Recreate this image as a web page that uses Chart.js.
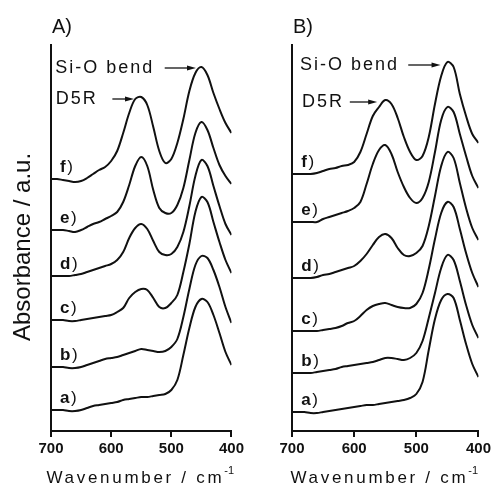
<!DOCTYPE html>
<html>
<head>
<meta charset="utf-8">
<script src="https://cdn.jsdelivr.net/npm/chart.js@4.4.1/dist/chart.umd.min.js"></script>
<style>
  html, body { margin: 0; padding: 0; background: #fff; }
  #wrap { position: relative; width: 494px; height: 493px; }
  canvas { position: absolute; top: 0; }
  #panelA { left: 0; }
  #panelB { left: 247px; }
</style>
</head>
<body>
<div id="wrap">
  <canvas id="panelA" width="247" height="493"></canvas>
  <canvas id="panelB" width="247" height="493"></canvas>
</div>
<script>
// wavenumber grid, cm-1 (700 -> 400)
const wavenumbers = [700, 690, 680, 670, 660, 650, 640, 630, 620, 610,
                     600, 590, 580, 570, 560, 550, 540, 530, 520, 510,
                     500, 490, 480, 470, 460, 450, 440, 430, 420, 410, 400];
const curveLabels = ['a', 'b', 'c', 'd', 'e', 'f'];

// panel A spectra (a.u., each relative to its own baseline)
const specA_a = [0, 0, 0, -1, -1, 0, 2, 4, 5, 6,   7, 8, 10, 11, 12, 13, 13, 14, 15, 16,   20, 30, 55, 82, 103, 111, 108, 95, 77, 58, 45];
const specA_b = [0, 0, 0, -1, -1, 0, 2, 4, 6, 8,   9, 10, 12, 14, 16, 18, 17, 16, 15, 16,   20, 28, 50, 78, 102, 111, 109, 97, 80, 60, 44];
const specA_c = [0, 0, 0, -1, -1, 0, 1, 2, 3, 4,   5, 8, 12, 22, 28, 31, 30, 22, 13, 12,   17, 25, 48, 76, 108, 123, 118, 98, 78, 60, 47];
const specA_d = [0, 0, 0, 0, 1, 2, 4, 6, 8, 10,    12, 16, 24, 38, 48, 52, 47, 35, 24, 21,   22, 29, 44, 70, 100, 116, 110, 90, 70, 52, 41];
const specA_e = [0, 0, 0, -1, -2, 0, 3, 6, 8, 11,  14, 18, 28, 45, 64, 73, 64, 40, 22, 17,   17, 25, 42, 70, 97, 108, 100, 82, 65, 54, 46];
const specA_f = [0, 0, -1, -2, -3, -2, 1, 5, 9, 12, 18, 28, 46, 66, 80, 82, 74, 52, 28, 16,  20, 36, 60, 88, 106, 112, 104, 86, 70, 56, 46];
const offsetsA = [21, 64, 111, 155, 201, 252];

// panel B spectra
const specB_a = [0, 0, 0, -1, -1, 0, 1, 2, 3, 4,   5, 6, 7, 7, 8, 9, 10, 11, 12, 14,        18, 30, 62, 93, 112, 118, 114, 92, 68, 48, 35];
const specB_b = [0, 0, 0, 0, 1, 2, 3, 4, 6, 7,     8, 9, 10, 11, 13, 15, 15, 14, 13, 15,    20, 32, 55, 80, 105, 118, 113, 92, 68, 48, 35];
const specB_c = [0, 0, 0, 0, 0, 1, 2, 3, 5, 8,     10, 15, 21, 25, 27, 28, 26, 24, 23, 23,  27, 38, 62, 92, 118, 129, 124, 102, 78, 58, 44];
const specB_d = [0, 0, 0, 0, 1, 3, 4, 6, 8, 10,    12, 17, 24, 33, 41, 44, 40, 30, 23, 22,  25, 32, 52, 82, 112, 126, 120, 95, 70, 50, 38];
const specB_e = [0, 0, 0, 0, 0, 3, 5, 7, 9, 11,    14, 20, 38, 58, 72, 77, 68, 50, 35, 24,  19, 24, 40, 70, 102, 115, 110, 88, 66, 46, 34];
const specB_f = [0, 0, 0, 0, 1, 3, 5, 6, 8, 9,     12, 22, 40, 58, 67, 74, 70, 56, 37, 22,  14, 18, 37, 70, 98, 112, 107, 80, 58, 40, 31];
const offsetsB = [19, 58, 100, 153, 209, 257];

const xTicks = [700, 600, 500, 400];

const FONT = "'Liberation Sans', Arial, Helvetica, sans-serif";
const INK = '#111';

function buildDatasets(series, offsets) {
  return series.map((vals, i) => ({
    label: curveLabels[i],
    data: vals.map((v, j) => ({ x: wavenumbers[j], y: v + offsets[i] })),
    borderColor: INK,
    borderWidth: 2,
    pointRadius: 0,
    tension: 0.35,
    fill: false
  }));
}

// text, labels and arrows drawn on top of each panel
const panelText = {
  id: 'panelText',
  afterDraw(chart, args, o) {
    const { ctx, chartArea: ca, scales: { x, y } } = chart;
    ctx.save();
    ctx.fillStyle = INK;
    ctx.strokeStyle = INK;
    ctx.textAlign = 'left';

    ctx.font = `20px ${FONT}`;
    ctx.textBaseline = 'alphabetic';
    ctx.fillText(o.panel, ca.left + 1, 33);

    ctx.textBaseline = 'middle';
    o.offsets.forEach((off, i) => {
      const px = x.getPixelForValue(o.labelX);
      const py = y.getPixelForValue(off + 12);
      ctx.font = `bold 17px ${FONT}`;
      ctx.fillText(curveLabels[i], px, py);
      const w = ctx.measureText(curveLabels[i]).width;
      ctx.font = `17px ${FONT}`;
      ctx.fillText(')', px + w + 1.5, py);
    });

    o.notes.forEach(n => {
      const ty = y.getPixelForValue(n.y);
      ctx.font = `18px ${FONT}`;
      ctx.letterSpacing = '2px';
      ctx.fillText(n.text, x.getPixelForValue(n.textX), ty);
      ctx.letterSpacing = '0px';
      const x0 = x.getPixelForValue(n.from), x1 = x.getPixelForValue(n.to);
      ctx.lineWidth = 1.3;
      ctx.beginPath(); ctx.moveTo(x0, ty); ctx.lineTo(x1 - 6, ty); ctx.stroke();
      ctx.beginPath(); ctx.moveTo(x1, ty); ctx.lineTo(x1 - 9, ty - 2.6); ctx.lineTo(x1 - 9, ty + 2.6);
      ctx.closePath(); ctx.fill();
    });

    // x axis title with superscript
    ctx.textBaseline = 'alphabetic';
    ctx.font = `17px ${FONT}`;
    ctx.letterSpacing = '2.7px';
    const main = 'Wavenumber / cm';
    const wMain = ctx.measureText(main).width;
    ctx.letterSpacing = '0px';
    ctx.font = `11px ${FONT}`;
    const wSup = ctx.measureText('-1').width;
    const cx = (ca.left + ca.right) / 2 - 1;
    const sx = cx - (wMain + wSup) / 2;
    ctx.font = `17px ${FONT}`;
    ctx.letterSpacing = '2.7px';
    ctx.fillText(main, sx, 483);
    ctx.letterSpacing = '0px';
    ctx.font = `11px ${FONT}`;
    ctx.fillText('-1', sx + wMain, 474);

    if (o.yTitle) {
      ctx.translate(23, 247);
      ctx.rotate(-Math.PI / 2);
      ctx.textAlign = 'center';
      ctx.textBaseline = 'middle';
      ctx.font = `24px ${FONT}`;
      ctx.fillText(o.yTitle, 0, 0);
    }
    ctx.restore();
  }
};

function makeChart(id, series, offsets, opts) {
  return new Chart(document.getElementById(id), {
    type: 'line',
    data: { datasets: buildDatasets(series, offsets) },
    options: {
      responsive: false,
      animation: false,
      layout: { padding: { top: 45, right: 14, left: 0, bottom: 0 } },
      plugins: {
        legend: { display: false },
        tooltip: { enabled: false },
        panelText: Object.assign({ offsets }, opts)
      },
      scales: {
        x: {
          type: 'linear',
          min: 400,
          max: 700,
          reverse: true,
          afterBuildTicks: s => { s.ticks = xTicks.map(v => ({ value: v })); },
          ticks: { color: INK, font: { family: FONT, size: 15, weight: 'bold' }, padding: 3, maxRotation: 0 },
          grid: { display: true, drawOnChartArea: false, drawTicks: true, tickLength: 6, color: INK, lineWidth: 2 },
          border: { display: true, color: INK, width: 2 },
          afterFit: s => { s.height = 62; }
        },
        y: {
          min: 0,
          max: 386,
          ticks: { display: false },
          grid: { display: false },
          border: { display: true, color: INK, width: 2 },
          afterFit: s => { s.width = opts.axisLeft; }
        }
      }
    },
    plugins: [panelText]
  });
}

makeChart('panelA', [specA_a, specA_b, specA_c, specA_d, specA_e, specA_f], offsetsA, {
  panel: 'A)',
  axisLeft: 51,
  labelX: 685,
  yTitle: 'Absorbance / a.u.',
  notes: [
    { text: 'Si-O bend', textX: 693, y: 363, from: 511, to: 459 },
    { text: 'D5R', textX: 692, y: 332, from: 598, to: 562 }
  ]
});

makeChart('panelB', [specB_a, specB_b, specB_c, specB_d, specB_e, specB_f], offsetsB, {
  panel: 'B)',
  axisLeft: 45,
  labelX: 685,
  notes: [
    { text: 'Si-O bend', textX: 687, y: 366, from: 513, to: 461 },
    { text: 'D5R', textX: 684, y: 329, from: 607, to: 563 }
  ]
});
</script>
</body>
</html>
